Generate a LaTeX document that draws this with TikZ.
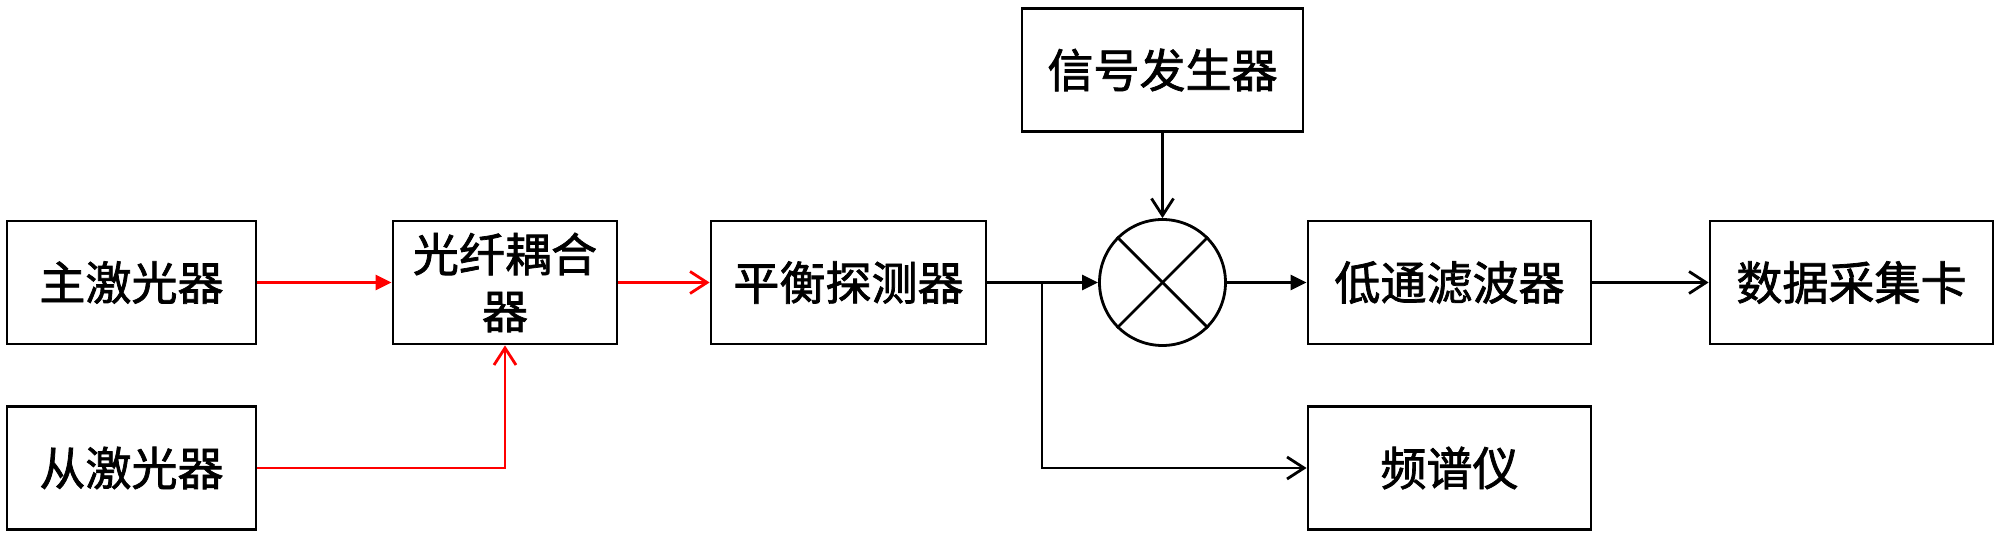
\documentclass[tikz,border=0pt]{standalone}
\usepackage{fontspec}
\usepackage{xcolor}
\usepackage{tikz}
\usetikzlibrary{arrows.meta}
\newfontfamily\cjk{Noto Sans CJK SC}[FakeBold=1.6]
\definecolor{primary}{RGB}{0, 0, 0}
\definecolor{beam}{RGB}{255, 0, 0}

\begin{document}
\begin{tikzpicture}[
  blk/.style={draw=primary,line width=0.8pt,inner sep=0pt,minimum height=1.23cm,font=\cjk\fontsize{13.1}{16.2}\selectfont,align=center},
  sigline/.style={primary,line width=0.8pt},
  optline/.style={beam,line width=0.8pt},
  filltip/.style={-{Triangle[length=0.16cm,width=0.15cm]}},
  opentip/.style={-{Straight Barb[length=0.17cm,width=0.22cm]}}
]
\useasboundingbox (0,0) rectangle (20,5.37);
\node[blk,minimum width=2.49cm] (master) at (1.315,2.545) {主激光器};
\node[blk,minimum width=2.49cm] (slave) at (1.315,0.69) {从激光器};
\node[blk,minimum width=2.24cm] (coupler) at (5.05,2.545) {光纤耦合\\器};
\node[blk,minimum width=2.75cm] (bpd) at (8.485,2.545) {平衡探测器};
\node[blk,minimum width=2.81cm] (siggen) at (11.625,4.67) {信号发生器};
\node[circle,draw=primary,line width=0.8pt,minimum size=1.26cm,inner sep=0pt] (mixer) at (11.625,2.545) {};
\draw[sigline] (mixer.north west) -- (mixer.south east);
\draw[sigline] (mixer.north east) -- (mixer.south west);
\node[blk,minimum width=2.83cm] (lpf) at (14.495,2.545) {低通滤波器};
\node[blk,minimum width=2.83cm] (daq) at (18.515,2.545) {数据采集卡};
\node[blk,minimum width=2.83cm] (fsa) at (14.495,0.69) {频谱仪};
\coordinate (split) at (10.42,2.545);
% optical path
\draw[optline,filltip] (master) -- (coupler);
\draw[optline,opentip] (slave) -| (coupler);
\draw[optline,opentip] (coupler) -- (bpd);
% electrical path
\draw[sigline,filltip] (bpd) -- (mixer);
\draw[sigline,opentip] (split) |- (fsa);
\draw[sigline,opentip] (siggen) -- (mixer);
\draw[sigline,filltip] (mixer) -- (lpf);
\draw[sigline,opentip] (lpf) -- (daq);
\end{tikzpicture}
\end{document}
